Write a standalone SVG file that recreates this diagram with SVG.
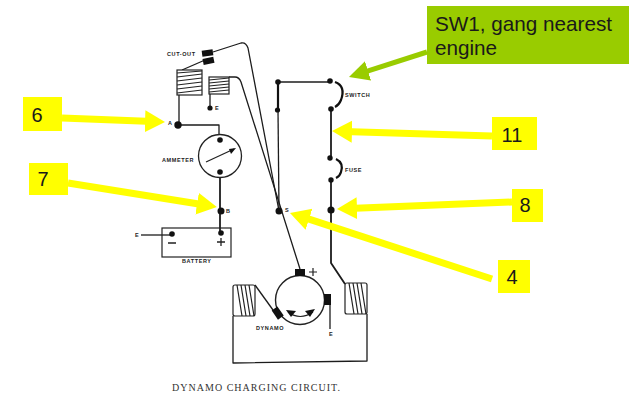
<svg xmlns="http://www.w3.org/2000/svg" width="640" height="410" viewBox="0 0 640 410">
<style>
.w{fill:none;stroke:#1c1c1c;stroke-width:1.3;stroke-linejoin:round}
.h{fill:none;stroke:#1c1c1c;stroke-width:1.8;stroke-linejoin:round}
.t{fill:none;stroke:#111;stroke-width:2.2}
.d{fill:#111}
.b{fill:#111}
.c{fill:#fff;stroke:#222;stroke-width:1.2}
.s{fill:none;stroke:#222;stroke-width:1.2}
.l{font-family:"Liberation Sans",Arial,sans-serif;font-weight:bold;font-size:5.500px;letter-spacing:.6px;fill:#222}
.n{font-family:"Liberation Sans",Arial,sans-serif;font-size:20px;fill:#1a1a1a;text-anchor:middle}
.g{font-family:"Liberation Sans",Arial,sans-serif;font-size:20.700px;fill:#1a1a1a}
.y{fill:#ffff00}
.ya{fill:none;stroke:#ffff00;stroke-width:7}
.ga{fill:none;stroke:#99cc00;stroke-width:5}
</style>
<defs>
<marker id="yh" markerUnits="userSpaceOnUse" markerWidth="21" markerHeight="24" refX="8" refY="11" orient="auto"><path d="M0,0L20,11L0,22Z" fill="#ffff00"/></marker>
<marker id="gh" markerUnits="userSpaceOnUse" markerWidth="21" markerHeight="24" refX="8" refY="11" orient="auto"><path d="M0,1L20,11L0,21Z" fill="#99cc00"/></marker>
</defs>
<rect width="640" height="410" fill="#fff"/>
<g id="connectors">
<path class="w" d="M213,52L241,43Q246,42 248,48L279,211"/>
<path class="w" d="M205,60L182,70"/>
<path class="w" d="M229,77L235,77Q239,77 241,82L300,269"/>
<path class="w" d="M179,95V125M178,125H219V140"/>
<path class="w" d="M210,94V108"/>
<path class="h" d="M220,172V233"/>
<path class="w" d="M141,235H172"/>
<path class="w" d="M278,82H330"/>
<path class="t" d="M278,82V110"/>
<path class="w" d="M278,110L279,211"/>
<path class="h" d="M331,109V158"/>
<path class="h" d="M331,180V263L345,284"/>
<path class="w" d="M255,285L273,310"/>
<path class="w" d="M233,316V363L367,361V314"/>
<path class="w" d="M330,303V329"/>
</g>
<g id="cutout">
<rect class="b" x="202" y="50" width="11" height="6" transform="rotate(-8 207 53)"/>
<rect class="b" x="203" y="58" width="11" height="6" transform="rotate(-12 208 61)"/>
<text class="l" x="167" y="56">CUT-OUT</text>
<rect class="c" x="177" y="70" width="25" height="25"/>
<path class="s" d="M177,73L202,71M177,77L202,74M177,81L202,78M177,85L202,82M177,89L202,86M177,93L202,90"/>
</g>
<g id="coil2">
<rect class="c" x="209" y="77" width="20" height="17"/>
<path class="s" d="M209,80L229,78M209,83L229,81M209,86L229,84M209,89L229,87M209,92L229,90"/>
<circle class="d" cx="210" cy="108" r="2.600"/>
<text class="l" x="215" y="110">E</text>
</g>
<g id="node-a"><circle class="d" cx="178" cy="125" r="3.700"/><text class="l" x="168" y="125">A</text></g>
<g id="ammeter">
<circle cx="220" cy="156" r="21.500" fill="#fff" stroke="#222" stroke-width="1.300"/>
<circle class="d" cx="220" cy="140" r="2.800"/>
<circle class="d" cx="220" cy="172" r="2.800"/>
<path d="M206,162L234,149" stroke="#222" stroke-width="1.300" fill="none"/>
<path class="d" d="M236,148L229,149L231,154Z"/>
<text class="l" x="162" y="162">AMMETER</text>
</g>
<g id="node-b"><circle class="d" cx="221" cy="211" r="3.500"/><text class="l" x="226" y="213">B</text></g>
<g id="battery">
<rect x="162" y="228" width="69" height="29" fill="none" stroke="#222" stroke-width="1.200"/>
<circle class="d" cx="172" cy="234" r="2.800"/>
<circle class="d" cx="221" cy="233" r="2.800"/>
<path d="M168,243H176M217,242H225M221,238V246" stroke="#222" stroke-width="1.300" fill="none"/>
<text class="l" x="135" y="237">E</text>
<text class="l" x="182" y="263">BATTERY</text>
</g>
<g id="switch">
<circle class="d" cx="278" cy="82" r="2.800"/>
<circle class="d" cx="277.500" cy="110" r="2.600"/>
<circle class="d" cx="330" cy="81" r="2.800"/>
<circle class="d" cx="331" cy="109" r="2.800"/>
<path class="t" d="M335,82Q346,86 341,100Q339,105 335,107"/>
<text class="l" x="345" y="97">SWITCH</text>
</g>
<g id="fuse">
<circle class="d" cx="330" cy="158" r="2.700"/>
<circle class="d" cx="331" cy="180" r="2.700"/>
<path class="t" d="M336,159Q344,163 341,172Q340,176 336,178"/>
<text class="l" x="345" y="172">FUSE</text>
</g>
<g id="node-s"><circle class="d" cx="279" cy="211" r="3.500"/><text class="l" x="285" y="212">S</text></g>
<g id="node-j"><circle class="d" cx="331" cy="210" r="3.600"/></g>
<g id="dynamo">
<circle cx="300" cy="300" r="24.500" fill="#fff" stroke="#222" stroke-width="1.400"/>
<rect class="b" x="295" y="269" width="10" height="7"/>
<rect class="b" x="324" y="294" width="7" height="11"/>
<rect class="b" x="274" y="308" width="7" height="11" transform="rotate(-35 277 313)"/>
<path d="M309,272H317M313,268V276" stroke="#222" stroke-width="1.200" fill="none"/>
<path d="M288,312Q300,321 313,312" stroke="#222" stroke-width="1.200" fill="none"/>
<path class="d" d="M286,310L296,311L291,317Z"/>
<path class="d" d="M315,309L305,311L310,317Z"/>
<text class="l" x="256" y="330">DYNAMO</text>
<text class="l" x="329" y="336">E</text>
</g>
<g id="coil-left">
<rect class="c" x="233" y="285" width="22" height="31" rx="2"/>
<path class="s" d="M237,285L242,316M241,285L246,316M245,285L250,316M249,285L254,316"/>
</g>
<g id="coil-right">
<rect class="c" x="345" y="283" width="22" height="31" rx="2"/>
<path class="s" d="M349,283L354,314M353,283L358,314M357,283L362,314M361,283L366,314"/>
</g>
<text id="caption" x="172" y="391" textLength="168" lengthAdjust="spacing" font-family="Liberation Serif,serif" font-size="10" fill="#333">DYNAMO CHARGING CIRCUIT.</text>
<g id="callout-arrows">
<path class="ya" d="M62,118L153,121.500" marker-end="url(#yh)"/>
<path class="ya" d="M68,183L205,205" marker-end="url(#yh)"/>
<path class="ya" d="M492,136L344,131.400" marker-end="url(#yh)"/>
<path class="ya" d="M512,202L349,208.500" marker-end="url(#yh)"/>
<path class="ya" d="M492,279L301.400,216.700" marker-end="url(#yh)"/>
<path class="ga" d="M427,52L360.400,73.300" marker-end="url(#gh)"/>
</g>
<g id="label-6"><rect class="y" x="23" y="97" width="39" height="34"/><text class="n" x="37" y="122">6</text></g>
<g id="label-7"><rect class="y" x="29" y="163" width="39" height="32"/><text class="n" x="43" y="186">7</text></g>
<g id="label-11"><rect class="y" x="492" y="117" width="45" height="33"/><text class="n" x="512" y="142">11</text></g>
<g id="label-8"><rect class="y" x="512" y="189" width="31" height="33"/><text class="n" x="525" y="212">8</text></g>
<g id="label-4"><rect class="y" x="498" y="260" width="32" height="33"/><text class="n" x="512" y="284">4</text></g>
<g id="label-sw1"><rect x="427" y="6" width="202" height="58" fill="#99cc00"/>
<text class="g" x="435" y="31">SW1, gang nearest</text>
<text class="g" x="435" y="55">engine</text></g>
</svg>
